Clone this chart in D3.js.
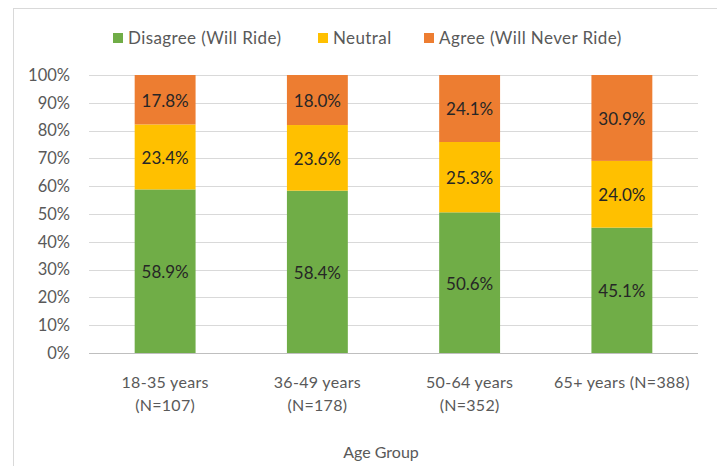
<!DOCTYPE html>
<html>
<head>
<meta charset="utf-8">
<script src="https://cdn.jsdelivr.net/npm/d3@7"></script>
<style>
  body { margin: 0; background: #fff; }
  svg text { font-family: Lato, "Open Sans", sans-serif; }
</style>
</head>
<body>
<div id="chart"></div>
<script>
// data
const groups = ["18-35 years (N=107)", "36-49 years (N=178)", "50-64 years (N=352)", "65+ years (N=388)"];
const groupLines = [["18-35 years", "(N=107)"], ["36-49 years", "(N=178)"], ["50-64 years", "(N=352)"], ["65+ years (N=388)"]];
const seriesNames = ["Disagree (Will Ride)", "Neutral", "Agree (Will Never Ride)"];
const disagree = [58.9, 58.4, 50.6, 45.1];
const neutral = [23.4, 23.6, 25.3, 24.0];
const agree = [17.8, 18.0, 24.1, 30.9];
const yTicks = [0, 0.1, 0.2, 0.3, 0.4, 0.5, 0.6, 0.7, 0.8, 0.9, 1];
const colors = ["#70AD47", "#FFC000", "#ED7D31"];

const w = 717, h = 466;
const margin = { left: 89, right: 19, top: 75, bottom: 113 };

const rows = groups.map((g, i) => ({
  group: g,
  [seriesNames[0]]: disagree[i],
  [seriesNames[1]]: neutral[i],
  [seriesNames[2]]: agree[i]
}));

const stacked = d3.stack().keys(seriesNames).offset(d3.stackOffsetExpand)(rows);

const x = d3.scaleBand().domain(groups).range([margin.left, w - margin.right]).paddingInner(0.6).paddingOuter(0.3);
const y = d3.scaleLinear().domain([0, 1]).range([h - margin.bottom, margin.top]);
const color = d3.scaleOrdinal().domain(seriesNames).range(colors);

const svg = d3.select("#chart").append("svg").attr("width", w).attr("height", h);

// chart border
svg.append("rect")
  .attr("x", 13.5).attr("y", 8.5)
  .attr("width", 720).attr("height", 480)
  .attr("fill", "none").attr("stroke", "#d9d9d9");

// gridlines
svg.append("g")
  .selectAll("line")
  .data(yTicks)
  .enter()
  .append("line")
  .attr("x1", margin.left).attr("x2", w - margin.right)
  .attr("y1", d => Math.round(y(d)) + 0.5).attr("y2", d => Math.round(y(d)) + 0.5)
  .attr("stroke", d => d === 0 ? "#bfbfbf" : "#d9d9d9");

// y axis labels
const yAxis = svg.append("g")
  .attr("transform", `translate(${margin.left - 19},0)`)
  .call(d3.axisLeft(y).tickValues(yTicks).tickFormat(d3.format(".0%")).tickSize(0).tickPadding(0));
yAxis.select(".domain").remove();
yAxis.selectAll("text").style("font-size", "16.5px").attr("fill", "#595959");

// bars
const layers = svg.append("g")
  .selectAll("g")
  .data(stacked)
  .enter()
  .append("g")
  .attr("fill", d => color(d.key));

layers.selectAll("rect")
  .data(d => d)
  .enter()
  .append("rect")
  .attr("x", d => x(d.data.group))
  .attr("width", x.bandwidth())
  .attr("y", d => y(d[1]))
  .attr("height", d => y(d[0]) - y(d[1]));

// value labels
layers.selectAll("text")
  .data(d => d.map(v => Object.assign({ key: d.key }, v)))
  .enter()
  .append("text")
  .attr("x", d => x(d.data.group) + x.bandwidth() / 2)
  .attr("y", d => (y(d[0]) + y(d[1])) / 2 + 1)
  .attr("dy", "0.35em")
  .attr("text-anchor", "middle")
  .attr("fill", "#262626")
  .style("font-size", "17px")
  .text(d => d.data[d.key].toFixed(1) + "%");

// x labels
const xl = svg.append("g")
  .selectAll("text")
  .data(groups)
  .enter()
  .append("text")
  .attr("x", d => x(d) + x.bandwidth() / 2)
  .attr("y", 388)
  .attr("text-anchor", "middle")
  .attr("fill", "#595959")
  .style("font-size", "16px")
  .style("letter-spacing", "0.3px");

xl.selectAll("tspan")
  .data((d, i) => groupLines[i])
  .enter()
  .append("tspan")
  .attr("x", function () { return d3.select(this.parentNode).attr("x"); })
  .attr("dy", (d, i) => i === 0 ? 0 : 23)
  .text(d => d);

// axis title
svg.append("text")
  .attr("x", 381).attr("y", 458)
  .attr("text-anchor", "middle")
  .attr("fill", "#595959")
  .style("font-size", "16px")
  .text("Age Group");

// legend
const legendX = [113, 318, 424];
const legend = svg.append("g")
  .selectAll("g")
  .data(seriesNames)
  .enter()
  .append("g")
  .attr("transform", (d, i) => `translate(${legendX[i]},38)`);

legend.append("rect")
  .attr("x", 0).attr("y", -5)
  .attr("width", 10).attr("height", 10)
  .attr("fill", d => color(d));

legend.append("text")
  .attr("x", 15).attr("y", 0)
  .attr("dy", "0.35em")
  .attr("fill", "#595959")
  .style("font-size", "17px")
  .style("letter-spacing", "0.4px")
  .text(d => d);
</script>
</body>
</html>
